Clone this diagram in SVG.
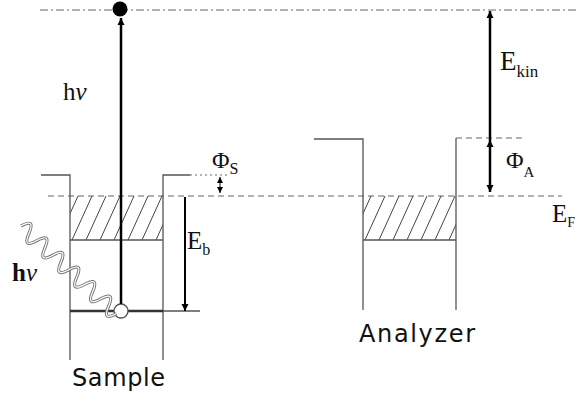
<svg xmlns="http://www.w3.org/2000/svg" width="579" height="401" viewBox="0 0 579 401">
<style>
.thin{stroke:#555;stroke-width:1.3;fill:none}
.dash{stroke:#666;stroke-width:1.2;fill:none;stroke-dasharray:6 4}
.dashdot{stroke:#666;stroke-width:1.2;fill:none;stroke-dasharray:8 3 2 3}
.dot{stroke:#666;stroke-width:1.2;fill:none;stroke-dasharray:2 3}
.hatch line{stroke:#444;stroke-width:1}
.arrow{stroke:#000;fill:none}
.serif{font-family:"Liberation Serif","Times New Roman",serif;fill:#111}
.sans{font-family:"DejaVu Sans","Comic Sans MS",sans-serif;fill:#111}
</style>
<defs>
<marker id="ah" viewBox="0 0 10 10" refX="10" refY="5" markerWidth="7" markerHeight="9" markerUnits="userSpaceOnUse" orient="auto-start-reverse">
<path d="M0,0 L10,5 L0,10 z" fill="#000"/>
</marker>
<marker id="ahs" viewBox="0 0 10 10" refX="10" refY="5" markerWidth="6" markerHeight="6" markerUnits="userSpaceOnUse" orient="auto-start-reverse">
<path d="M0,0 L10,5 L0,10 z" fill="#000"/>
</marker>
<clipPath id="clipS"><rect x="70" y="196" width="93" height="44"/></clipPath>
<clipPath id="clipA"><rect x="363" y="196" width="93" height="44"/></clipPath>
</defs>
<rect width="579" height="401" fill="#fff"/>

<g id="levels">
<line class="dashdot" x1="40" y1="10" x2="579" y2="10"/>
<line class="dash" x1="48" y1="196" x2="562" y2="196"/>
</g>

<g id="sample">
<g class="hatch" clip-path="url(#clipS)">
<line x1="58" y1="240" x2="78" y2="196"/>
<line x1="72" y1="240" x2="92" y2="196"/>
<line x1="86" y1="240" x2="106" y2="196"/>
<line x1="100" y1="240" x2="120" y2="196"/>
<line x1="114" y1="240" x2="134" y2="196"/>
<line x1="128" y1="240" x2="148" y2="196"/>
<line x1="142" y1="240" x2="162" y2="196"/>
<line x1="156" y1="240" x2="176" y2="196"/>
</g>
<polyline class="thin" points="41,175 70,175 70,360"/>
<polyline class="thin" points="163,360 163,175 190,175"/>
<line class="dot" x1="190" y1="175" x2="230" y2="175"/>
<line class="thin" x1="70" y1="240" x2="163" y2="240"/>
<line stroke="#333" stroke-width="2.5" x1="70" y1="311" x2="163" y2="311"/>
<line class="thin" x1="163" y1="311" x2="200" y2="311"/>
<circle cx="121" cy="311" r="7" fill="#fff" stroke="#555" stroke-width="1.3"/>
<text class="sans" x="72" y="386" font-size="24" textLength="93">Sample</text>
</g>

<g id="analyzer">
<g class="hatch" clip-path="url(#clipA)">
<line x1="351" y1="240" x2="371" y2="196"/>
<line x1="365" y1="240" x2="385" y2="196"/>
<line x1="379" y1="240" x2="399" y2="196"/>
<line x1="393" y1="240" x2="413" y2="196"/>
<line x1="407" y1="240" x2="427" y2="196"/>
<line x1="421" y1="240" x2="441" y2="196"/>
<line x1="435" y1="240" x2="455" y2="196"/>
<line x1="449" y1="240" x2="469" y2="196"/>
</g>
<polyline class="thin" points="314,139 363,139 363,310"/>
<polyline class="thin" points="456,310 456,138"/>
<line class="dash" x1="456" y1="138" x2="523" y2="138"/>
<line class="thin" x1="363" y1="240" x2="456" y2="240"/>
<text class="sans" x="359" y="342" font-size="24" textLength="116">Analyzer</text>
</g>

<g id="photon">
<g transform="translate(21,226) rotate(42.5)">
<path d="M0,0 q5.4,-16 10.8,0 t10.8,0 t10.8,0 t10.8,0 t10.8,0 t10.8,0 t10.8,0 t10.8,0 t10.8,0 t10.8,0 t10.8,0 t10.8,0" stroke="#777" stroke-width="3.2" fill="none"/>
<path d="M0,0 q5.4,-16 10.8,0 t10.8,0 t10.8,0 t10.8,0 t10.8,0 t10.8,0 t10.8,0 t10.8,0 t10.8,0 t10.8,0 t10.8,0 t10.8,0" stroke="#fff" stroke-width="1.2" fill="none"/>
</g>
<text class="serif" x="12" y="281" font-size="25" font-weight="bold">h<tspan font-style="italic" font-weight="normal">ν</tspan></text>
</g>

<g id="connectors">
<line class="arrow" stroke-width="2.5" x1="121" y1="304" x2="121" y2="18" marker-end="url(#ah)"/>
<circle cx="120" cy="9" r="7.5" fill="#000"/>
<line class="arrow" stroke-width="2" x1="185" y1="197" x2="185" y2="311" marker-end="url(#ah)"/>
<line class="arrow" stroke-width="1" x1="220" y1="177" x2="220" y2="193" marker-start="url(#ahs)" marker-end="url(#ahs)"/>
<line class="arrow" stroke-width="2.5" x1="490" y1="140" x2="490" y2="11" marker-end="url(#ah)"/>
<line class="arrow" stroke-width="2.5" x1="490" y1="140" x2="490" y2="192" marker-start="url(#ah)" marker-end="url(#ah)"/>
</g>

<g id="labels">
<text class="serif" x="63" y="100" font-size="25">h<tspan font-style="italic">ν</tspan></text>
<text class="serif" x="212" y="168" font-size="24">Φ<tspan font-size="16" dy="6">S</tspan></text>
<text class="serif" x="187" y="249" font-size="25">E<tspan font-size="16" dy="6">b</tspan></text>
<text class="serif" x="500" y="70" font-size="27">E<tspan font-size="17" dy="7">kin</tspan></text>
<text class="serif" x="506" y="168" font-size="24">Φ<tspan font-size="15" dy="9">A</tspan></text>
<text class="serif" x="552" y="222" font-size="25">E<tspan font-size="14" dy="5">F</tspan></text>
</g>
</svg>
